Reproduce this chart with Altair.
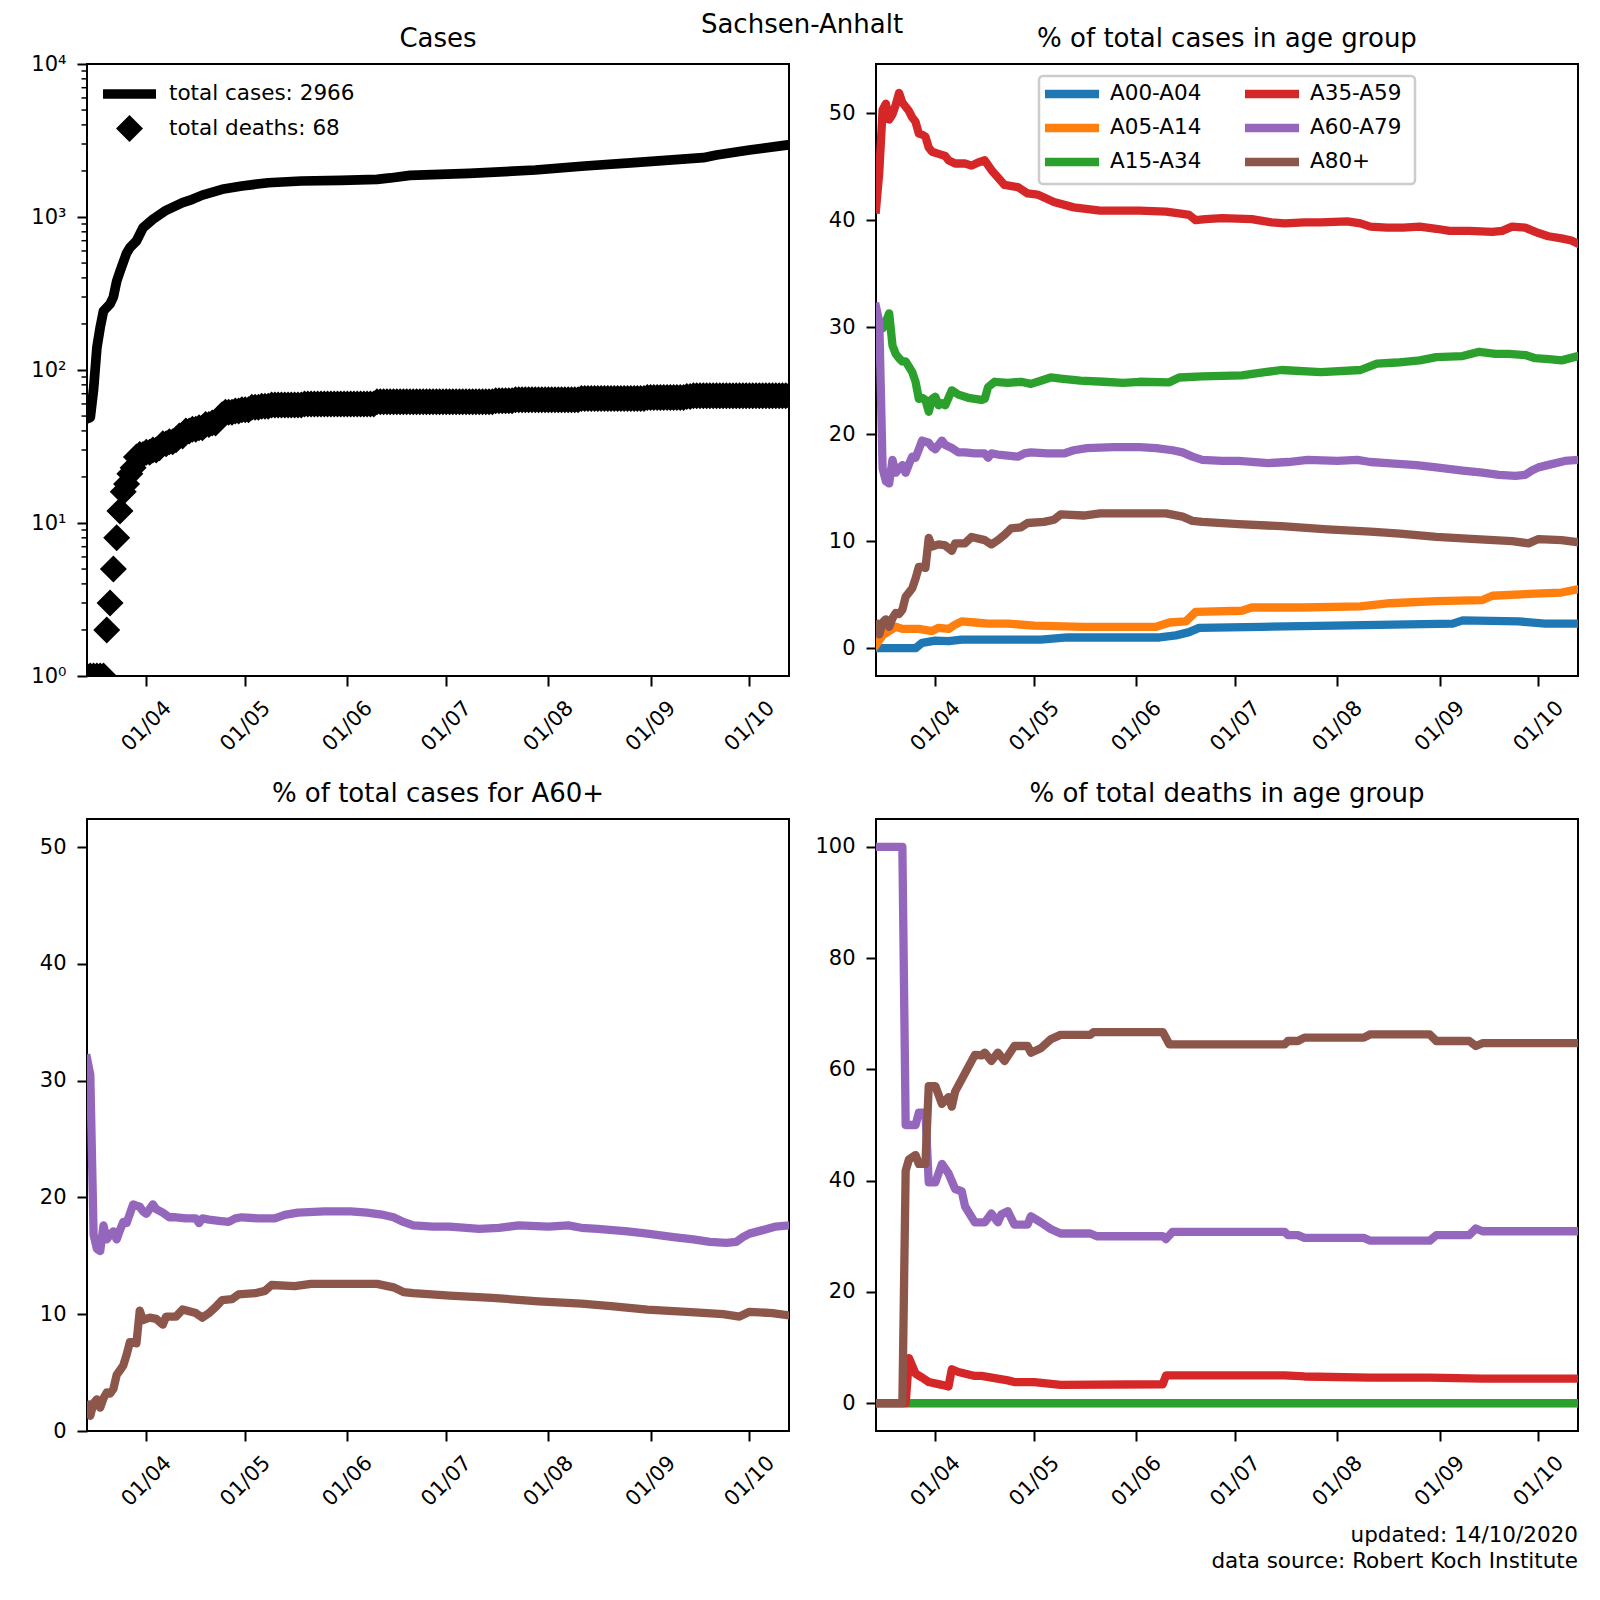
import altair as alt
import pandas as pd

# ---------------- data ----------------
START = pd.Timestamp("2020-03-14")          # day 0
LAST_DAY = 213                              # 2020-10-13

SUPTITLE = "Sachsen-Anhalt"
TITLES = ["Cases", "% of total cases in age group", "% of total cases for A60+",
          "% of total deaths in age group"]
CASES_LABEL = "total cases: 2966"
DEATHS_LABEL = "total deaths: 68"
FOOT1 = "updated: 14/10/2020"
FOOT2 = "data source: Robert Koch Institute"

GROUPS = ["A00-A04", "A05-A14", "A15-A34", "A35-A59", "A60-A79", "A80+"]
COLORS = ["#1f77b4", "#ff7f0e", "#2ca02c", "#d62728", "#9467bd", "#8c564b"]

# total cases (log panel)
cases_day = [0, 1, 2, 3, 4, 5, 7, 8, 9, 10, 12, 13, 15, 17, 20, 24, 29, 32, 35, 41, 47,
             55, 65, 77, 88, 92, 98, 116, 136, 151, 166, 187, 191, 201, 213]
cases_val = [48, 49, 75, 140, 190, 243, 270, 300, 380, 440, 580, 630, 697, 851, 966, 1106,
             1240, 1305, 1390, 1517, 1595, 1675, 1719, 1737, 1763, 1800, 1872, 1930, 2028,
             2154, 2264, 2443, 2541, 2742, 2966]

# total deaths: day on which the cumulative count changed, and the new count
deaths_day = [0, 6, 7, 8, 9, 10, 11, 12, 13, 14, 15, 16, 18, 20, 22, 23, 25, 27, 28, 30, 32,
              34, 36, 38, 40, 41, 42, 45, 47, 50, 53, 56, 66, 88, 124, 130, 150, 170, 182, 184]
deaths_val = [1, 2, 3, 5, 8, 12, 16, 18, 21, 23, 27, 28, 29, 30, 31, 33, 34, 35, 37, 40, 41,
              42, 44, 45, 48, 51, 53, 54, 55, 57, 58, 59, 60, 62, 63, 64, 65, 66, 67, 68]

# % of total cases in age group
a00_day = [0, 12, 14, 18, 22, 26, 50, 58, 86, 91, 95, 98, 117, 139, 175, 178, 195, 203, 213]
a00_val = [0, 0, 0.5, 0.7, 0.65, 0.8, 0.8, 1.0, 1.0, 1.2, 1.5, 1.9, 2.0, 2.1, 2.3, 2.6, 2.5, 2.3, 2.3]

a05_day = [0, 2, 4, 6, 8, 13, 17, 19, 22, 24, 26, 30, 34, 40, 48, 63, 85, 89, 94, 97, 111,
           114, 129, 147, 156, 170, 184, 187, 200, 208, 213]
a05_val = [0.3, 1.2, 1.6, 2.0, 1.8, 1.8, 1.6, 1.9, 1.8, 2.2, 2.5, 2.4, 2.3, 2.3, 2.1, 2.0,
           2.0, 2.4, 2.5, 3.4, 3.5, 3.8, 3.8, 3.9, 4.2, 4.4, 4.5, 4.9, 5.1, 5.2, 5.5]

a15_day = [0, 1, 2, 3, 4, 5, 6, 7, 8, 9, 10, 11, 12, 13, 14, 15, 16, 17, 18, 19, 20, 21, 22,
           23, 25, 28, 32, 33, 34, 36, 40, 44, 47, 50, 53, 56, 62, 69, 75, 80, 89, 92, 99,
           111, 118, 123, 135, 147, 152, 158, 165, 170, 178, 183, 188, 192, 197, 200, 205,
           208, 213]
a15_val = [31.0, 30.5, 29.9, 30.5, 31.3, 28.3, 27.5, 27.1, 26.8, 26.8, 26.3, 25.8, 24.9, 23.3,
           23.4, 23.2, 22.1, 23.3, 23.5, 22.7, 22.9, 22.7, 23.4, 24.1, 23.7, 23.4, 23.2, 23.3,
           24.4, 24.9, 24.8, 24.9, 24.7, 25.0, 25.3, 25.2, 25.0, 24.9, 24.8, 24.9, 24.85, 25.3,
           25.4, 25.5, 25.8, 26.0, 25.8, 26.0, 26.6, 26.7, 26.9, 27.2, 27.3, 27.7, 27.5, 27.5,
           27.4, 27.1, 27.0, 26.9, 27.3]

a35_day = [0, 1, 2, 3, 4, 5, 6, 7, 8, 9, 10, 11, 12, 13, 14, 15, 16, 17, 19, 21, 22, 24, 27,
           29, 31, 33, 35, 37, 39, 43, 46, 49, 54, 60, 68, 80, 88, 93, 95, 97, 100, 105, 114,
           120, 124, 130, 135, 143, 147, 150, 155, 160, 165, 170, 174, 180, 187, 190, 193,
           197, 201, 204, 208, 211, 213]
a35_val = [41.0, 44.5, 50.3, 50.9, 49.4, 49.9, 50.8, 51.9, 51.0, 50.6, 50.2, 49.6, 49.2, 48.1,
           48.0, 47.8, 46.8, 46.4, 46.2, 46.0, 45.6, 45.3, 45.3, 45.1, 45.4, 45.6, 44.7, 44.0,
           43.3, 43.1, 42.5, 42.4, 41.7, 41.2, 40.9, 40.9, 40.8, 40.6, 40.5, 40.0, 40.1, 40.2,
           40.1, 39.8, 39.7, 39.8, 39.8, 39.9, 39.7, 39.4, 39.3, 39.3, 39.4, 39.2, 39.0, 39.0,
           38.9, 39.0, 39.4, 39.3, 38.8, 38.5, 38.3, 38.1, 37.8]

a60_day = [0, 1, 2, 3, 4, 5, 6, 7, 8, 9, 10, 11, 12, 13, 14, 15, 16, 17, 18, 19, 20, 21, 23,
           25, 27, 30, 33, 34, 35, 37, 40, 43, 45, 47, 52, 57, 60, 64, 72, 80, 85, 90, 93, 96,
           99, 105, 110, 119, 125, 131, 140, 146, 150, 155, 164, 170, 178, 184, 189, 194, 197,
           199, 201, 205, 209, 213]
a60_val = [31.9, 30.5, 16.8, 15.6, 15.4, 17.6, 16.4, 16.8, 17.1, 16.4, 17.2, 17.9, 17.8, 18.6,
           19.4, 19.3, 19.2, 18.8, 18.6, 19.0, 19.4, 19.0, 18.7, 18.3, 18.3, 18.2, 18.2, 17.8,
           18.2, 18.1, 18.0, 17.9, 18.2, 18.3, 18.2, 18.2, 18.5, 18.7, 18.8, 18.8, 18.7, 18.5,
           18.3, 17.9, 17.6, 17.5, 17.5, 17.3, 17.4, 17.6, 17.5, 17.6, 17.4, 17.3, 17.1, 16.9,
           16.6, 16.4, 16.2, 16.1, 16.2, 16.6, 16.9, 17.2, 17.5, 17.6]

a80_day = [0, 1, 2, 3, 4, 5, 6, 7, 8, 9, 10, 11, 12, 13, 14, 15, 16, 17, 19, 21, 23, 24, 27,
           29, 33, 35, 37, 39, 41, 44, 46, 51, 54, 56, 63, 68, 77, 88, 93, 96, 99, 110, 123,
           137, 150, 159, 170, 182, 193, 198, 201, 208, 213]
a80_val = [2.2, 1.3, 2.4, 2.7, 2.0, 2.8, 3.3, 3.2, 3.6, 4.8, 5.2, 5.6, 6.5, 7.6, 7.6, 7.5,
           10.3, 9.5, 9.7, 9.6, 9.1, 9.8, 9.8, 10.4, 10.1, 9.7, 10.1, 10.6, 11.2, 11.3, 11.7,
           11.8, 12.0, 12.5, 12.4, 12.6, 12.6, 12.6, 12.3, 11.9, 11.8, 11.6, 11.4, 11.1, 10.9,
           10.7, 10.4, 10.2, 10.0, 9.8, 10.2, 10.1, 9.9]

# % of total deaths in age group
d00_day = [0, 213]
d00_val = [0, 0]
d05_day = [0, 213]
d05_val = [0, 0]
d15_day = [0, 213]
d15_val = [0, 0]
d35_day = [0, 9, 10, 12, 14, 16, 20, 22, 23, 25, 30, 32, 36, 40, 42, 48, 56, 87, 88, 124,
           130, 150, 168, 184, 213]
d35_val = [0, 0, 8.1, 5.3, 4.6, 3.8, 3.3, 3.0, 6.1, 5.6, 4.9, 4.9, 4.5, 4.1, 3.8, 3.8, 3.3,
           3.4, 5.0, 5.0, 4.8, 4.6, 4.6, 4.4, 4.4]
d60_day = [0, 8, 9, 12, 13, 15, 16, 18, 20, 22, 24, 26, 27, 30, 33, 34, 35, 37, 38, 40, 42,
           46, 47, 50, 53, 56, 65, 67, 87, 88, 90, 124, 125, 128, 130, 148, 150, 168, 170,
           180, 182, 184, 213]
d60_val = [100, 100, 50, 50, 52.2, 52.2, 39.7, 39.7, 43.0, 41.3, 38.5, 38.1, 35.4, 32.5, 32.5,
           33.3, 34.1, 32.5, 33.9, 34.5, 32.1, 32.1, 33.6, 32.5, 31.3, 30.5, 30.5, 30.0, 30.0,
           29.5, 30.8, 30.8, 30.2, 30.2, 29.7, 29.7, 29.2, 29.2, 30.2, 30.2, 31.4, 30.9, 30.9]
d80_day = [0, 8, 9, 10, 12, 13, 15, 16, 18, 20, 22, 23, 24, 26, 30, 32, 33, 35, 37, 39, 42,
           46, 47, 50, 53, 56, 65, 66, 87, 89, 124, 125, 128, 130, 148, 150, 168, 170, 180,
           182, 184, 213]
d80_val = [0, 0, 41.8, 43.8, 44.6, 43.0, 43.0, 57.0, 57.0, 53.8, 55.0, 53.3, 56.0, 58.2, 62.6,
           62.5, 63.0, 61.5, 63.0, 61.5, 64.2, 64.2, 63.0, 63.8, 65.4, 66.2, 66.2, 66.7, 66.7,
           64.5, 64.5, 65.1, 65.1, 65.7, 65.7, 66.3, 66.3, 65.1, 65.1, 64.2, 64.7, 64.7]

LOG_MAJOR = [1, 10, 100, 1000, 10000]
LOG_MINOR = [m * 10 ** e for e in range(4) for m in range(2, 10)]

# ---------------- tables ----------------
def frame(days, vals, group):
    return pd.DataFrame({"date": START + pd.to_timedelta(days, unit="D"),
                         "value": vals, "group": group})

cases_df = frame(cases_day, cases_val, CASES_LABEL)

# cumulative deaths stay constant between the days on which they changed
daily_deaths = []
j = 0
for d in range(LAST_DAY + 1):
    while j + 1 < len(deaths_day) and deaths_day[j + 1] <= d:
        j += 1
    daily_deaths.append(deaths_val[j])
deaths_df = frame(list(range(LAST_DAY + 1)), daily_deaths, DEATHS_LABEL)

case_pct = pd.concat([frame(a00_day, a00_val, GROUPS[0]), frame(a05_day, a05_val, GROUPS[1]),
                      frame(a15_day, a15_val, GROUPS[2]), frame(a35_day, a35_val, GROUPS[3]),
                      frame(a60_day, a60_val, GROUPS[4]), frame(a80_day, a80_val, GROUPS[5])],
                     ignore_index=True)
old_pct = pd.concat([frame(a60_day, a60_val, GROUPS[4]), frame(a80_day, a80_val, GROUPS[5])],
                    ignore_index=True)
death_pct = pd.concat([frame(d00_day, d00_val, GROUPS[0]), frame(d05_day, d05_val, GROUPS[1]),
                       frame(d15_day, d15_val, GROUPS[2]), frame(d35_day, d35_val, GROUPS[3]),
                       frame(d60_day, d60_val, GROUPS[4]), frame(d80_day, d80_val, GROUPS[5])],
                      ignore_index=True)
minor_df = pd.DataFrame({"value": LOG_MINOR})

# ---------------- layout / styling ----------------
W, H = 702, 612
FS_TICK = 21
FS_LEG = 21.5
FS_TITLE = 26
LW = 8.3          # coloured lines
LW_BLACK = 9.7    # total cases line
age_scale = alt.Scale(domain=GROUPS, range=COLORS)

def x_enc():
    return alt.X(
        "date:T", title=None,
        scale=alt.Scale(domain=[alt.DateTime(year=2020, month=3, date=14),
                                alt.DateTime(year=2020, month=10, date=13)]),
        axis=alt.Axis(values=[alt.DateTime(year=2020, month=m, date=1) for m in range(4, 11)],
                      format="%d/%m", labelAngle=315, labelAlign="center",
                      labelBaseline="middle", labelPadding=40, tickSize=10, tickWidth=2,
                      tickColor="black", labelFontSize=FS_TICK, labelColor="black",
                      domain=False, grid=False, labelFlush=False, labelOverlap=False))

def y_axis(values, **kw):
    return alt.Axis(values=values, title=None, tickSize=10, tickWidth=2, tickColor="black",
                    labelFontSize=FS_TICK, labelColor="black", labelPadding=11, domain=False,
                    grid=False, labelFlush=False, labelOverlap=False, **kw)

def one_row():
    return pd.DataFrame({"k": [0]})

def text_at(txt, x, y, size, align="left", baseline="middle"):
    return alt.Chart(pd.DataFrame({"t": [txt]})).mark_text(
        fontSize=size, align=align, baseline=baseline, color="black").encode(
        text="t:N", x=alt.value(x), y=alt.value(y))

def handle(x1, x2, y, color, width):
    return alt.Chart(one_row()).mark_rule(color=color, strokeWidth=width).encode(
        x=alt.value(x1), x2=alt.value(x2), y=alt.value(y))

def panel_title(txt):
    return text_at(txt, W / 2, -17, FS_TITLE, align="center", baseline="alphabetic")

def line_mark(**kw):
    return dict(strokeWidth=LW, clip=True, strokeJoin="round", strokeCap="square", **kw)

log_scale = alt.Scale(type="log", domain=[1, 10000], nice=False)
log_axis = y_axis(LOG_MAJOR,
                  labelExpr="datum.value == 1 ? '10⁰' : datum.value == 10 ? '10¹' : "
                            "datum.value == 100 ? '10²' : datum.value == 1000 ? '10³' : '10⁴'")

# ---------------- top left: cases ----------------
minor_ticks = alt.Chart(minor_df).mark_rule(color="black", strokeWidth=1.5).encode(
    y=alt.Y("value:Q", scale=log_scale, axis=log_axis),
    x=alt.value(-5.5), x2=alt.value(0),
)
cases_line = alt.Chart(cases_df).mark_line(color="black", strokeWidth=LW_BLACK, clip=True,
                                           strokeJoin="round", strokeCap="square").encode(
    x=x_enc(), y=alt.Y("value:Q", scale=log_scale, axis=log_axis))
deaths_pts = alt.Chart(deaths_df).mark_point(shape="diamond", filled=True, size=729,
                                             color="black", opacity=1, clip=True).encode(
    x=x_enc(), y=alt.Y("value:Q", scale=log_scale, axis=log_axis))
leg_diamond = alt.Chart(one_row()).mark_point(shape="diamond", filled=True, size=729,
                                              color="black", opacity=1).encode(
    x=alt.value(42.5), y=alt.value(64.5))

top_left = alt.layer(
    minor_ticks, cases_line, deaths_pts,
    handle(16, 69, 30, "black", LW_BLACK), text_at(CASES_LABEL, 82, 30, FS_LEG),
    leg_diamond, text_at(DEATHS_LABEL, 82, 64.5, FS_LEG),
    panel_title(TITLES[0]),
    text_at(SUPTITLE, 715, -31, FS_TITLE, align="center", baseline="alphabetic"),
).properties(width=W, height=H)

# ---------------- top right: % of cases ----------------
pct_lines = alt.Chart(case_pct).mark_line(**line_mark()).encode(
    x=x_enc(),
    y=alt.Y("value:Q", scale=alt.Scale(domain=[-2.6, 54.6], nice=False, zero=False),
            axis=y_axis([0, 10, 20, 30, 40, 50])),
    color=alt.Color("group:N", scale=age_scale, legend=None),
)
LEG_BOX = (163, 12, 539, 120)
LEG_COL_X = [169, 369]
LEG_ROW_Y = [30, 64, 98]
HANDLE_LEN = 54
LABEL_DX = 65
legend_frame = alt.Chart(one_row()).mark_rect(
    fill="white", fillOpacity=0.8, stroke="#cccccc", strokeWidth=2.5, cornerRadius=4).encode(
    x=alt.value(LEG_BOX[0]), x2=alt.value(LEG_BOX[2]),
    y=alt.value(LEG_BOX[1]), y2=alt.value(LEG_BOX[3]))
legend_layers = [legend_frame]
for i, (g, c) in enumerate(zip(GROUPS, COLORS)):
    cx, ry = LEG_COL_X[i // 3], LEG_ROW_Y[i % 3]
    legend_layers.append(handle(cx, cx + HANDLE_LEN, ry, c, LW))
    legend_layers.append(text_at(g, cx + LABEL_DX, ry, FS_LEG))

top_right = alt.layer(pct_lines, *legend_layers, panel_title(TITLES[1])).properties(
    width=W, height=H)

# ---------------- bottom left: % of cases A60+ ----------------
old_lines = alt.Chart(old_pct).mark_line(**line_mark()).encode(
    x=x_enc(),
    y=alt.Y("value:Q", scale=alt.Scale(domain=[0, 52.4], nice=False, zero=False),
            axis=y_axis([0, 10, 20, 30, 40, 50])),
    color=alt.Color("group:N", scale=age_scale, legend=None),
)
bottom_left = alt.layer(old_lines, panel_title(TITLES[2])).properties(width=W, height=H)

# ---------------- bottom right: % of deaths ----------------
death_lines = alt.Chart(death_pct).mark_line(**line_mark()).encode(
    x=x_enc(),
    y=alt.Y("value:Q", scale=alt.Scale(domain=[-5, 105], nice=False, zero=False),
            axis=y_axis([0, 20, 40, 60, 80, 100])),
    color=alt.Color("group:N", scale=age_scale, legend=None),
)
bottom_right = alt.layer(
    death_lines, panel_title(TITLES[3]),
    text_at(FOOT1, W, 723, FS_LEG, align="right", baseline="alphabetic"),
    text_at(FOOT2, W, 749, FS_LEG, align="right", baseline="alphabetic"),
).properties(width=W, height=H)

# ---------------- assemble ----------------
chart = alt.concat(top_left, top_right, bottom_left, bottom_right, columns=2,
                   spacing={"row": 143, "column": 87}, bounds="flush",
                   padding={"left": 21, "top": 3, "right": 5, "bottom": 5})

chart = chart.configure(font="DejaVu Sans").configure_view(stroke="black", strokeWidth=2)

chart.save("out.html", embed_options={"renderer": "svg", "actions": False})
